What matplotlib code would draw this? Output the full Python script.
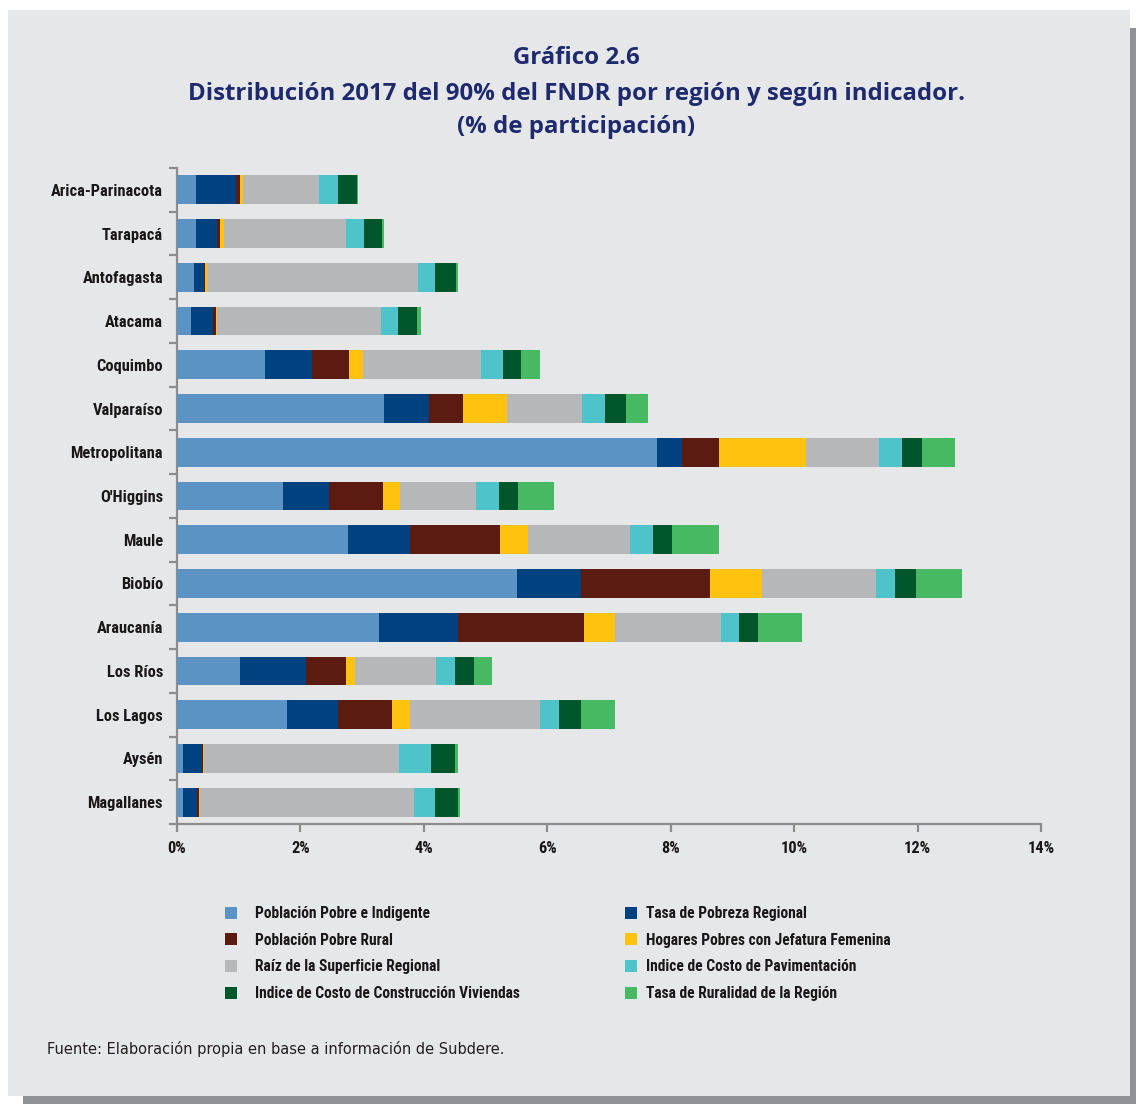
import matplotlib
matplotlib.use("Agg")
import matplotlib.pyplot as plt
from matplotlib.patches import Rectangle, Patch
import numpy as np

regions = ["Arica-Parinacota", "Tarapacá", "Antofagasta", "Atacama", "Coquimbo",
           "Valparaíso", "Metropolitana", "O'Higgins", "Maule", "Biobío",
           "Araucanía", "Los Ríos", "Los Lagos", "Aysén", "Magallanes"]

series_names = ["Población Pobre e Indigente", "Tasa de Pobreza Regional",
                "Población Pobre Rural", "Hogares Pobres con Jefatura Femenina",
                "Raíz de la Superficie Regional", "Indice de Costo de Pavimentación",
                "Indice de Costo de Construcción Viviendas", "Tasa de Ruralidad de la Región"]

pobre_indigente = [0.30, 0.30, 0.28, 0.22, 1.43, 3.35, 7.78, 1.72, 2.77, 5.51, 3.27, 1.02, 1.79, 0.09, 0.09]
tasa_pobreza    = [0.65, 0.35, 0.15, 0.36, 0.76, 0.73, 0.41, 0.74, 1.00, 1.04, 1.28, 1.07, 0.82, 0.31, 0.24]
pobre_rural     = [0.065, 0.054, 0.02, 0.044, 0.60, 0.55, 0.60, 0.87, 1.46, 2.08, 2.05, 0.65, 0.88, 0.02, 0.02]
hogares_jef_fem = [0.054, 0.06, 0.044, 0.032, 0.22, 0.72, 1.40, 0.29, 0.46, 0.85, 0.50, 0.14, 0.28, 0.02, 0.016]
raiz_superficie = [1.24, 1.98, 3.41, 2.65, 1.92, 1.21, 1.18, 1.23, 1.65, 1.85, 1.71, 1.32, 2.12, 3.15, 3.48]
costo_paviment  = [0.30, 0.28, 0.27, 0.27, 0.36, 0.38, 0.38, 0.36, 0.38, 0.30, 0.30, 0.30, 0.30, 0.52, 0.33]
costo_construc  = [0.30, 0.30, 0.345, 0.32, 0.29, 0.33, 0.32, 0.32, 0.30, 0.35, 0.30, 0.32, 0.35, 0.39, 0.38]
tasa_ruralidad  = [0.03, 0.023, 0.037, 0.06, 0.31, 0.36, 0.53, 0.58, 0.77, 0.74, 0.71, 0.28, 0.55, 0.05, 0.03]

xticks = [0, 2, 4, 6, 8, 10, 12, 14]
xtick_labels = ["0%", "2%", "4%", "6%", "8%", "10%", "12%", "14%"]

colors = ["#5B93C4", "#00427F", "#5C1B10", "#FFC20E",
          "#B6B7B8", "#4EC3CA", "#00562B", "#48B963"]

all_series = [pobre_indigente, tasa_pobreza, pobre_rural, hogares_jef_fem,
              raiz_superficie, costo_paviment, costo_construc, tasa_ruralidad]

W, H = 1136, 1104
fig = plt.figure(figsize=(W / 100, H / 100), dpi=100, facecolor="white")

def fx(px):
    return px / W

def fy(py):
    return 1 - py / H

# shadow and panel
fig.patches.append(Rectangle((fx(23), fy(1104)), fx(1136 - 23), (1104 - 28) / H,
                             transform=fig.transFigure, facecolor="#8F9194", edgecolor="none", zorder=-2))
fig.patches.append(Rectangle((fx(8), fy(1096)), fx(1130 - 8), (1096 - 10) / H,
                             transform=fig.transFigure, facecolor="#E6E7E8", edgecolor="none", zorder=-1))

cond = ["Roboto Condensed", "Lato", "DejaVu Sans"]
txt_color = "#1A1718"

ax = fig.add_axes([fx(177), fy(824), fx(1041 - 177), (824 - 168) / H])
ax.set_facecolor("none")
ax.set_zorder(2)

y = np.arange(len(regions))
left = np.zeros(len(regions))
handles = []
for name, vals, c in zip(series_names, all_series, colors):
    vals = np.array(vals)
    ax.barh(y, vals, left=left, height=0.66, color=c, edgecolor="none", label=name, zorder=3)
    left += vals
    handles.append(Patch(facecolor=c, edgecolor="none", label=name))

ax.set_ylim(len(regions) - 0.5, -0.5)
ax.set_xlim(0, 14)
ax.set_xticks(xticks)
ax.set_xticklabels(xtick_labels)
ax.set_yticks(y)
ax.set_yticklabels(regions)
ax.set_yticks(np.arange(-0.5, len(regions), 1), minor=True)

for s in ["top", "right"]:
    ax.spines[s].set_visible(False)
for s in ["left", "bottom"]:
    ax.spines[s].set_color("#8C8C8C")
    ax.spines[s].set_linewidth(1.6)

ax.tick_params(axis="y", which="major", length=0, pad=10)
ax.tick_params(axis="y", which="minor", length=6, width=1.6, color="#8C8C8C", direction="out")
ax.tick_params(axis="x", which="major", length=6, width=1.6, color="#8C8C8C", direction="out", pad=6)

for lab in ax.get_yticklabels() + ax.get_xticklabels():
    lab.set_family(cond)
    lab.set_fontsize(11.8)
    lab.set_fontweight("bold")
    lab.set_color(txt_color)

# title
title_color = "#1F2A6E"
title_lines = ["Gráfico 2.6",
               "Distribución 2017 del 90% del FNDR por región y según indicador.",
               "(% de participación)"]
for line, ypx in zip(title_lines, [58, 94, 127]):
    fig.text(fx(576), fy(ypx), line, ha="center", va="center", fontsize=17.3,
             fontweight="bold", color=title_color, family=["Open Sans", "DejaVu Sans"])

# legend in two columns (row-wise order)
leg_kw = dict(loc="upper left", frameon=False, borderpad=0, borderaxespad=0,
              handlelength=0.8, handleheight=0.8,
              labelspacing=0.75, prop={"family": cond, "size": 11.2, "weight": "bold"},
              labelcolor=txt_color)
leg1 = fig.legend(handles=handles[0::2], bbox_to_anchor=(fx(225), fy(906)),
                  handletextpad=1.1, **leg_kw)
leg2 = fig.legend(handles=handles[1::2], bbox_to_anchor=(fx(625), fy(906)),
                  handletextpad=0.55, **leg_kw)

fig.text(fx(47), fy(1049), "Fuente: Elaboración propia en base a información de Subdere.",
         ha="left", va="center", fontsize=10.5, color="#231F20", family="DejaVu Sans")

fig.savefig("out.png", dpi=100, facecolor="white")
